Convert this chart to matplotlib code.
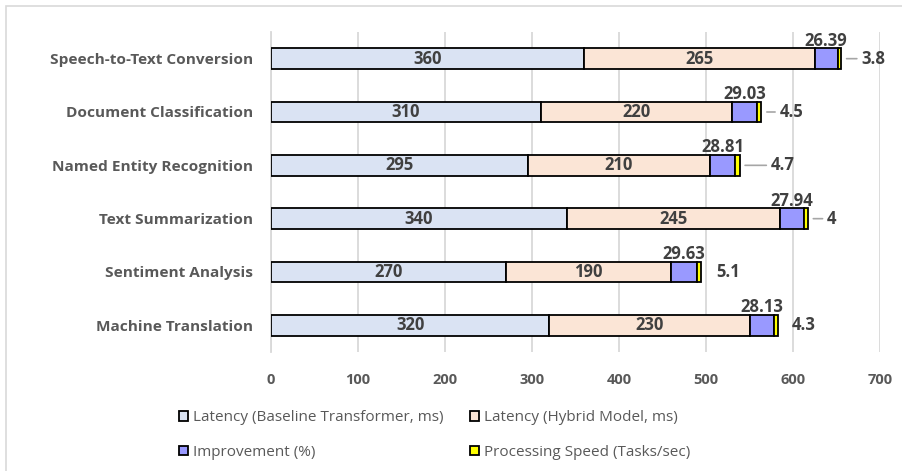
import matplotlib
matplotlib.use("Agg")
import matplotlib.pyplot as plt
from matplotlib.patches import Rectangle
import numpy as np

plt.rcParams['font.family'] = ['Open Sans', 'DejaVu Sans']

tasks = ["Speech-to-Text Conversion", "Document Classification", "Named Entity Recognition",
         "Text Summarization", "Sentiment Analysis", "Machine Translation"]
baseline_latency = [360, 310, 295, 340, 270, 320]
hybrid_latency = [265, 220, 210, 245, 190, 230]
improvement = [26.39, 29.03, 28.81, 27.94, 29.63, 28.13]
speed = [3.8, 4.5, 4.7, 4, 5.1, 4.3]

series_names = ["Latency (Baseline Transformer, ms)", "Latency (Hybrid Model, ms)",
                "Improvement (%)", "Processing Speed (Tasks/sec)"]
colors = ["#DAE3F3", "#FBE5D6", "#9999FF", "#FFFF00"]

# label offsets (pixels) for the speed labels and whether to draw a leader line
speed_offsets = [20, 18, 31, 19, 15, 14]
speed_leader = [True, True, True, True, False, False]

label_col = "#404040"
axis_col = "#595959"

fig = plt.figure(figsize=(9.02, 4.71), dpi=100)
fig.patches.append(Rectangle((6 / 902, -0.1), 1.2, 1 - 6 / 471 + 0.1, transform=fig.transFigure,
                             fill=False, edgecolor="#D9D9D9", linewidth=1.2))
ax = fig.add_axes([271 / 902, 1 - 352 / 471, (880 - 271) / 902, (352 - 32) / 471])

y = np.arange(len(tasks))
h = 0.39
left = np.zeros(len(tasks))
bars = []
for vals, col, name in zip([baseline_latency, hybrid_latency, improvement, speed], colors, series_names):
    b = ax.barh(y, vals, left=left, height=h, color=col, edgecolor="black", linewidth=1.3,
                label=name, zorder=3)
    bars.append(b)
    left = left + np.array(vals, dtype=float)

# values inside the latency segments, above the improvement segment, and beside the bar end
for i in range(len(tasks)):
    ax.text(baseline_latency[i] / 2, y[i], f"{baseline_latency[i]}", ha="center", va="center",
            fontsize=12, fontweight="bold", color=label_col, zorder=5)
    ax.text(baseline_latency[i] + hybrid_latency[i] / 2, y[i], f"{hybrid_latency[i]}", ha="center",
            va="center", fontsize=12, fontweight="bold", color=label_col, zorder=5)
    s = baseline_latency[i] + hybrid_latency[i]
    ax.text(s + improvement[i] / 2, y[i] - 0.34, f"{improvement[i]:.2f}", ha="center", va="center",
            fontsize=12, fontweight="bold", color=label_col, zorder=5)
    end = s + improvement[i] + speed[i]
    off = speed_offsets[i] * 0.72
    ax.annotate(f"{speed[i]:g}", xy=(end, y[i]), xytext=(off, 0), textcoords="offset points",
                ha="left", va="center", fontsize=12, fontweight="bold", color=label_col, zorder=5)
    if speed_leader[i]:
        ax.annotate("", xy=(end, y[i]), xytext=(off - 3, 0), textcoords="offset points",
                    arrowprops=dict(arrowstyle="-", color="#A6A6A6", lw=1.2,
                                    shrinkA=0, shrinkB=4), zorder=4)

ax.set_xlim(0, 700)
ax.set_xticks(np.arange(0, 701, 100))
ax.set_ylim(len(tasks) - 0.5, -0.5)
ax.set_yticks(y)
ax.set_yticklabels(tasks, fontsize=11.1, fontweight="bold", color=axis_col)
for t in ax.get_xticklabels():
    t.set_fontsize(10.5)
    t.set_fontweight("bold")
    t.set_color(axis_col)
ax.tick_params(axis="both", length=0)
ax.tick_params(axis="y", pad=13)
ax.tick_params(axis="x", pad=15)
ax.grid(axis="x", color="#D9D9D9", linewidth=1.3, zorder=0)
for side in ["top", "right", "bottom"]:
    ax.spines[side].set_visible(False)
ax.spines["left"].set_color("#D9D9D9")
ax.spines["left"].set_linewidth(1.3)

# legend filled row by row: two series per row
order = [0, 2, 1, 3]
leg = fig.legend(handles=[bars[k] for k in order], labels=[series_names[k] for k in order],
                 ncol=2, loc="upper left",
                 bbox_to_anchor=(173 / 902, 1 - 404 / 471), frameon=False,
                 fontsize=11, handlelength=0.6, handleheight=0.6, handletextpad=0.3,
                 columnspacing=1.75, labelspacing=1.3, borderaxespad=0)
for t in leg.get_texts():
    t.set_color(axis_col)
for p in leg.get_patches():
    p.set_linewidth(1.3)

fig.savefig("out.png", dpi=100)
